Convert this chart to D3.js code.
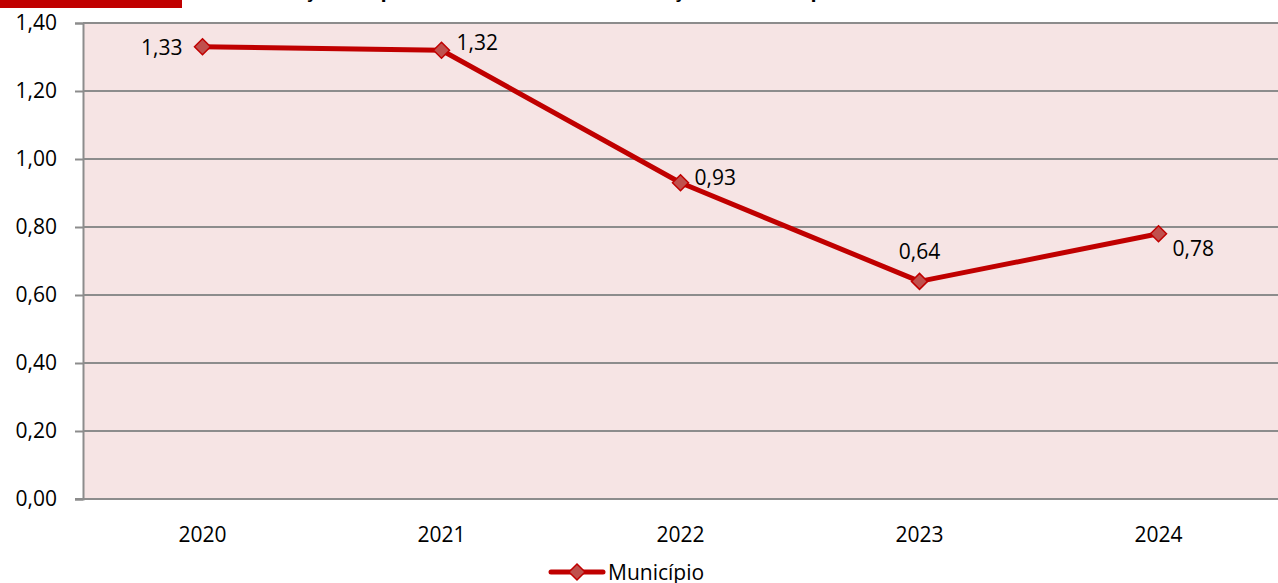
<!DOCTYPE html>
<html>
<head>
<meta charset="utf-8">
<script src="https://cdn.jsdelivr.net/npm/d3@7"></script>
<style>
  html, body { margin: 0; padding: 0; background: #fff; }
  svg { display: block; }
  text { font-family: "Open Sans", "Noto Sans", sans-serif; fill: #000; }
</style>
</head>
<body>
<svg id="chart" width="1278" height="583"></svg>
<script>
const years = ["2020", "2021", "2022", "2023", "2024"];
const values = [1.33, 1.32, 0.93, 0.64, 0.78];
const yTicks = [0, 0.2, 0.4, 0.6, 0.8, 1.0, 1.2, 1.4];
const seriesName = "Município";
const titleText = "Evolução da quantidade de óbitos na Situação do Município — Período de 2020 a 2024";
// label placement per point: left, right-up, right, above, right-down
const labelSide = ["left", "rightUp", "right", "above", "rightDown"];

const W = 1278, H = 583;
const margin = { left: 83, right: 0, top: 23, bottom: 84 };
const fmt = v => d3.format(".2f")(v).replace(".", ",");
const FS = 21;

const svg = d3.select("#chart");

// header strip and title (cut at the top edge)
svg.append("rect").attr("x", 0).attr("y", 0).attr("width", 182).attr("height", 8).attr("fill", "#C00000");
svg.append("text").attr("x", 250).attr("y", -3)
  .attr("font-size", 20).attr("font-weight", "bold").text(titleText);

const x = d3.scaleBand().domain(years).range([margin.left, W - margin.right]);
const y = d3.scaleLinear().domain([0, 1.4]).range([H - margin.bottom, margin.top]);

// plot background
svg.append("rect")
  .attr("x", margin.left).attr("y", y(1.4))
  .attr("width", W - margin.right - margin.left).attr("height", y(0) - y(1.4))
  .attr("fill", "#F6E4E4");

// horizontal gridlines
svg.append("g").selectAll("line").data(yTicks.filter(d => d > 0)).join("line")
  .attr("x1", margin.left).attr("x2", W)
  .attr("y1", d => y(d)).attr("y2", d => y(d))
  .attr("stroke", "#8C8C8C").attr("stroke-width", 2);

// y axis
const yAxis = svg.append("g").attr("transform", `translate(${margin.left},0)`)
  .call(d3.axisLeft(y).tickValues(yTicks).tickFormat(fmt).tickSize(8).tickPadding(18));
yAxis.select(".domain").attr("stroke", "#8C8C8C").attr("stroke-width", 2);
yAxis.selectAll(".tick line").attr("stroke", "#8C8C8C").attr("stroke-width", 2);
yAxis.selectAll(".tick text").attr("font-size", FS).attr("fill", "#000")
  .attr("font-family", "'Open Sans', sans-serif");

// x axis baseline
svg.append("line").attr("x1", margin.left - 8).attr("x2", W)
  .attr("y1", y(0)).attr("y2", y(0)).attr("stroke", "#8C8C8C").attr("stroke-width", 2);

// x labels
svg.append("g").selectAll("text").data(years).join("text")
  .attr("x", d => x(d) + x.bandwidth() / 2).attr("y", y(0) + 43)
  .attr("text-anchor", "middle").attr("font-size", FS).text(d => d);

const px = (d, i) => x(years[i]) + x.bandwidth() / 2;

// series line
svg.append("path").datum(values)
  .attr("d", d3.line().x((d, i) => px(d, i)).y(d => y(d)))
  .attr("fill", "none").attr("stroke", "#C00000").attr("stroke-width", 5)
  .attr("stroke-linejoin", "round");

const diamond = s => `M0,${-s}L${s},0L0,${s}L${-s},0Z`;

// markers
svg.append("g").selectAll("path").data(values).join("path")
  .attr("transform", (d, i) => `translate(${px(d, i)},${y(d)})`)
  .attr("d", diamond(8))
  .attr("fill", "#C0504D").attr("stroke", "#C00000").attr("stroke-width", 1.5);

// data labels
const offsets = {
  left: { dx: -20, dy: 8, anchor: "end" },
  rightUp: { dx: 15, dy: 0, anchor: "start" },
  right: { dx: 14, dy: 2, anchor: "start" },
  above: { dx: 0, dy: -22, anchor: "middle" },
  rightDown: { dx: 14, dy: 22, anchor: "start" }
};
svg.append("g").selectAll("text").data(values).join("text")
  .attr("x", (d, i) => px(d, i) + offsets[labelSide[i]].dx)
  .attr("y", (d, i) => y(d) + offsets[labelSide[i]].dy)
  .attr("text-anchor", (d, i) => offsets[labelSide[i]].anchor)
  .attr("font-size", FS).text(fmt);

// legend
const lg = svg.append("g").attr("transform", "translate(577,572)");
lg.append("line").attr("x1", -26).attr("x2", 26).attr("y1", 0).attr("y2", 0)
  .attr("stroke", "#C00000").attr("stroke-width", 5).attr("stroke-linecap", "round");
lg.append("path").attr("d", diamond(8)).attr("fill", "#C0504D")
  .attr("stroke", "#C00000").attr("stroke-width", 1.5);
lg.append("text").attr("x", 31).attr("y", 8).attr("font-size", FS).text(seriesName);
</script>
</body>
</html>
